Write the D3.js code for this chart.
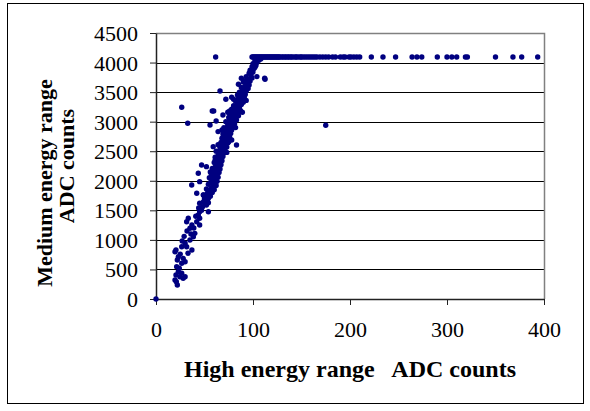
<!DOCTYPE html>
<html>
<head>
<meta charset="utf-8">
<script src="https://d3js.org/d3.v7.min.js"></script>
<style>
  body { margin: 0; background: #fff; }
  svg { display: block; }
  .title { font-family: "Liberation Serif", "Times New Roman", serif; font-weight: bold; fill: #000; white-space: pre; }
</style>
</head>
<body>
<div id="chart"></div>
<script>
// values: [high energy ADC, medium energy ADC]
const lowBand = [
  [0,0],[22,237],[21,293],[19.6,321],[28,350],[24.7,377],[30,377],[20.6,406],[23,462],[26.5,435],
  [24,520],[21.3,547],[26.5,604],[30,631],[22,660],[28,688],[23,716],[25,760],[33,773],[19.6,800],
  [20.6,829],[37,829],[26.5,885],[31.6,885],[30,942],[27,980],[35,998],[38.5,1054],[29,1060],[36,1100],
  [40,1111],[32,1150],[35,1196],[39,1200],[37,1252],[45,1252],[31.6,1308],[42,1308],[33.3,1365],[45,1365],
  [41,1400],[43.6,1421],[45,1477],[54,1477],[47,1500],[44,1540],[48,1560],[52,1590],[45,1619],[50.5,1619],
  [54,1630],[49,1647],[53,1680],[50,1700]
];
const midBand = [
  [51,1720],[54,1750],[56,1740],[49,1760],[53,1790],[58,1800],[55,1830],[60,1850],[52,1860],[57,1880],
  [59,1900],[62,1920],[54,1940],[56,1960],[60,1975],[63,1990],[58,2010],[61,2030],[55,2050],[64,2060],
  [59,2080],[62,2100],[57,2120],[65,2140],[60,2160],[63,2180],[66,2200],[58,2210],[61,2230],[64,2250],
  [67,2270],[62,2290],[60,2310],[65,2320],[68,2340],[63,2360],[66,2380],[61,2400],[69,2410],[64,2430],
  [67,2450],[70,2470],[65,2490],[62,2500],[68,2520],[71,2540],[66,2560],[73,2570],[69,2590],[64,2610],
  [72,2630],[67,2650],[75,2660],[70,2680],[73,2700],[68,2720],[76,2730],[71,2750],[74,2770],[69,2790],
  [77,2800],[72,2820],[75,2840],[78,2860],[73,2880],[70,2900],[76,2910],[79,2930],[74,2950],[81,2960],
  [77,2980],[72,3000],[80,3010],[83,3030],[78,3050],[75,3070],[82,3080],[85,3100],[79,3120],[76,3140],
  [84,3150],[81,3170],[87,3190],[78,3210],[83,3230],[86,3250],[80,3270],[88,3290],[84,3310],[90,3330],
  [82,3350],[87,3370],[85,3390],[91,3410],[88,3430],[84,3450],[92,3460],[89,3480],[86,3500],[93,3520],
  [90,3540],[95,3560],[88,3580],[92,3600],[96,3620],[94,3650],[90,3670],[97,3690],[95,3720],[99,3740],
  [93,3760],[98,3790],[96,3820],[100,3840],[97,3870],[101,3900],[99,3930],[103,3950],[100,3980],[104,4000],
  [102,4030],[106,4040],[108,4060],
  [55,1780],[58,1860],[60,1910],[57,2000],[60,2070],[63,2130],[59,2170],[64,2200],[62,2260],[66,2300],
  [63,2330],[67,2390],[65,2440],[68,2480],[70,2530],[67,2580],[71,2600],[74,2640],[69,2690],[72,2740],
  [75,2790],[71,2830],[77,2870],[74,2920],[78,2970],[76,3030],[80,3090],[77,3100],[82,3130],[79,3180],
  [83,3200],[81,3260],[85,3300],[87,3340],[86,3420],[89,3440],[91,3500],[94,3580],[93,3630],[96,3700],
  [98,3850],[102,3920],
  [56,2150],[61,2350],[73,2480],[78,2690],[68,2860],[82,2900],[74,3160],[89,3160],[80,3380],[93,3360]
];
const outliers = [
  [26.5,3243],[32.7,2973],[36.8,1929],[47,2267],[43.6,2127],[52,2239],[42,1788],[45,1985],[48.8,1760],
  [54,1703],[55.7,2944],[62,3011],[64,2832],[59,2577],[83,2606],[58,3181],[59.5,3181],[66,3520],[72,3379],
  [78,3413],[85,3633],[91,3689],[112.4,3717],[69,3113],[76,3181],[80,3226],[88,3734],[104,3762],[112,3734],
  [175,2939],[61.5,4095]
];
// points stuck at the medium range ceiling
const saturation = 4095;
const saturatedX = [
  99,100,101,102,103,104,105,106,107,108,109,110,111,112,113,114,115,116,117,118,119,120,121,122,123,124,
  125,126,127,128,130,131,133,134,136,137,139,140,142,144,145,147,149,150,152,154,156,158,160,162,164,166,
  169,172,175,178,182,185,190,193,195,199,201,204,207,210,222,234,247,264,269,274,290,300,305,310,319,321,
  350,368,377,393.5
];
const xTicks = [0, 100, 200, 300, 400];
const yTicks = [0, 500, 1000, 1500, 2000, 2500, 3000, 3500, 4000, 4500];

const points = lowBand.concat(midBand, outliers, saturatedX.map(v => [v, saturation]));

const width = 590, height = 411;
const svg = d3.select("#chart").append("svg")
  .attr("width", width)
  .attr("height", height);

// outer chart frame
svg.append("rect")
  .attr("x", 7.5).attr("y", 3.5)
  .attr("width", 576).attr("height", 400)
  .attr("fill", "#fff")
  .attr("stroke", "#000");

const x = d3.scaleLinear().domain([0, 400]).range([156, 544]);
const y = d3.scaleLinear().domain([0, 4500]).range([299, 33]);

// gridlines
svg.append("g")
  .selectAll("line")
  .data(yTicks.filter(d => d > 0 && d < 4500))
  .enter().append("line")
  .attr("x1", x(0)).attr("x2", x(400))
  .attr("y1", d => Math.round(y(d)) + 0.5)
  .attr("y2", d => Math.round(y(d)) + 0.5)
  .attr("stroke", "#000");

// plot area border (top and right grey)
svg.append("path")
  .attr("d", "M" + x(0) + "," + (y(4500) + 0.5) + "H" + (x(400) + 0.5) + "V" + y(0))
  .attr("fill", "none")
  .attr("stroke", "#808080")
  .attr("stroke-width", 1.5);

const yAxis = svg.append("g")
  .attr("transform", "translate(" + x(0) + ",0)")
  .call(d3.axisLeft(y).tickValues(yTicks).tickFormat(d3.format("d"))
    .tickSizeInner(6).tickSizeOuter(0).tickPadding(12));
const xAxis = svg.append("g")
  .attr("transform", "translate(0," + y(0) + ")")
  .call(d3.axisBottom(x).tickValues(xTicks).tickFormat(d3.format("d"))
    .tickSizeInner(6).tickSizeOuter(0).tickPadding(16));

[yAxis, xAxis].forEach(a => {
  a.attr("font-family", "Liberation Serif, Times New Roman, serif").attr("font-size", 22);
  a.select(".domain").attr("stroke", "#222").attr("stroke-width", 1.5);
  a.selectAll(".tick line").attr("stroke", "#222");
  a.selectAll(".tick text").attr("fill", "#000");
});
yAxis.selectAll(".tick text").attr("dy", "0.34em");

// data markers
svg.append("g")
  .selectAll("circle")
  .data(points)
  .enter().append("circle")
  .attr("cx", d => x(d[0]))
  .attr("cy", d => y(d[1]))
  .attr("r", 2.7)
  .attr("fill", "#000080");

// axis titles
svg.append("text")
  .attr("class", "title")
  .attr("x", 350).attr("y", 377)
  .attr("text-anchor", "middle")
  .style("font-size", "24px")
  .text("High energy range   ADC counts");

svg.append("text")
  .attr("class", "title")
  .attr("transform", "translate(52,183) rotate(-90)")
  .attr("text-anchor", "middle")
  .style("font-size", "22px")
  .text("Medium energy range");
svg.append("text")
  .attr("class", "title")
  .attr("transform", "translate(74,166) rotate(-90)")
  .attr("text-anchor", "middle")
  .style("font-size", "22px")
  .text("ADC counts");
</script>
</body>
</html>
